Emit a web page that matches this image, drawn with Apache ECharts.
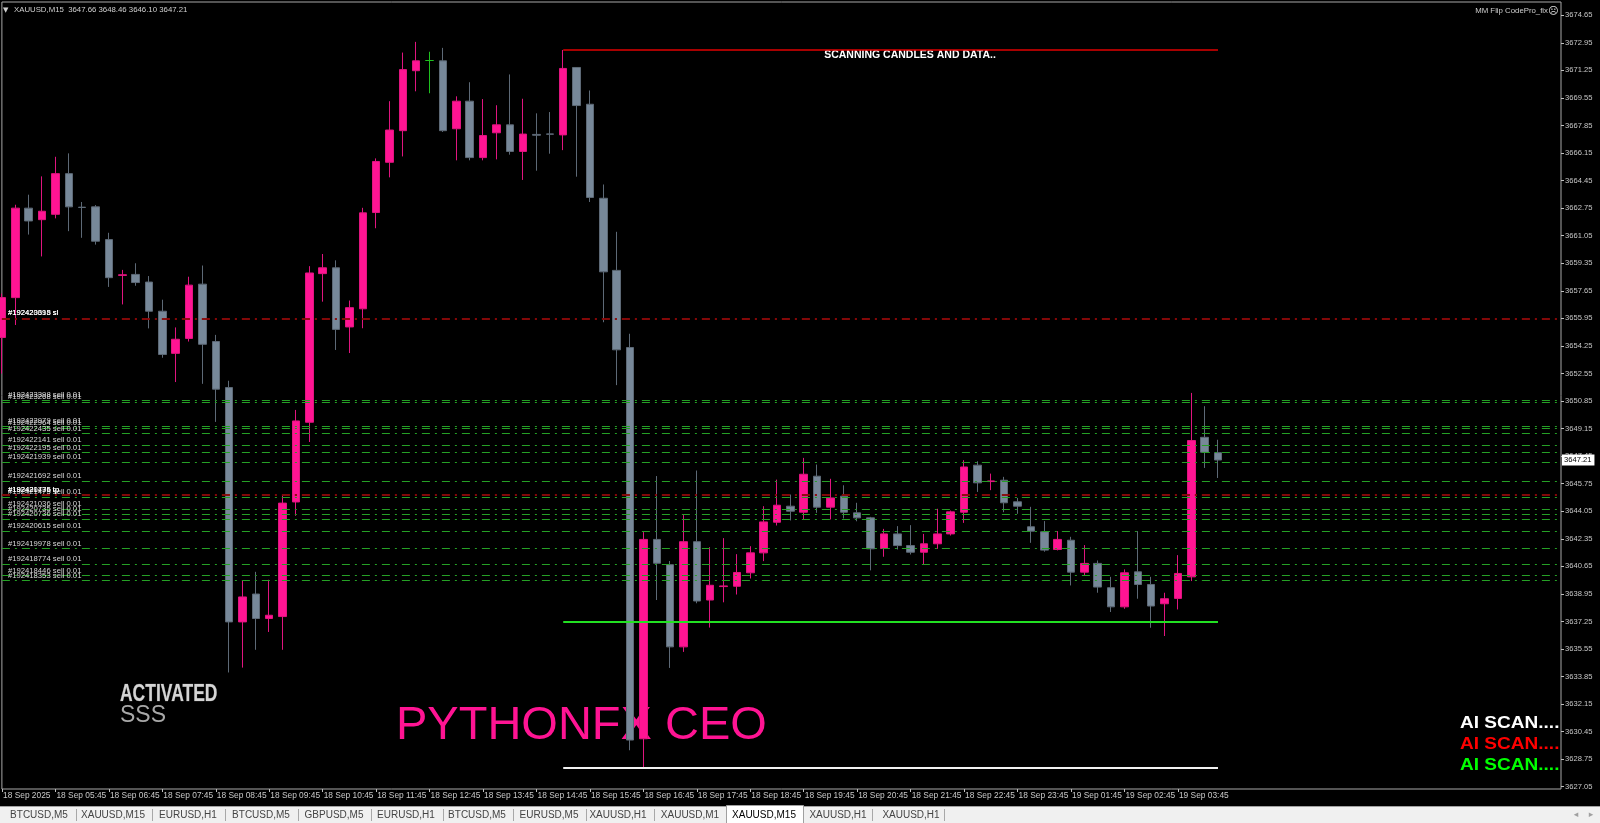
<!DOCTYPE html>
<html><head><meta charset="utf-8">
<script src="https://cdn.jsdelivr.net/npm/echarts@6/dist/echarts.min.js"></script>
<style>html,body{margin:0;padding:0;background:#000;}#c{width:1600px;height:823px;}</style>
</head><body><div id="c"></div>
<script>
// ---- data ----
const openP = [3654.77,3657.23,3662.75,3662.04,3662.37,3664.88,3662.81,3662.83,3660.81,3658.60,
3658.66,3658.19,3656.39,3653.79,3654.71,3658.06,3654.52,3651.68,3637.22,3638.94,
3637.43,3637.55,3644.62,3649.54,3658.71,3659.07,3655.42,3656.54,3662.48,3665.58,
3667.53,3671.23,3671.86,3671.84,3667.65,3669.35,3665.87,3667.40,3667.89,3666.25,
3667.30,3667.33,3667.27,3671.43,3669.16,3663.36,3658.91,3654.15,3630.01,3642.31,
3640.75,3635.68,3642.17,3638.57,3639.40,3639.42,3640.25,3641.48,3643.37,3644.36,
3643.99,3646.21,3644.30,3644.98,3643.95,3643.64,3641.75,3642.65,3641.93,3641.52,
3642.04,3642.65,3643.99,3646.89,3645.88,3645.96,3644.63,3643.09,3642.78,3641.69,
3642.26,3640.29,3640.83,3639.33,3638.15,3640.31,3639.53,3638.34,3638.67,3640.00,
3648.61,3647.66];
const closeP = [3657.23,3662.75,3661.96,3662.56,3664.88,3662.83,3662.79,3660.71,3658.46,3658.64,
3658.16,3656.39,3653.72,3654.66,3658.00,3654.35,3651.58,3637.22,3638.76,3637.43,
3637.63,3644.55,3649.62,3658.75,3659.07,3655.27,3656.61,3662.46,3665.63,3667.57,
3671.30,3671.84,3671.86,3667.53,3669.35,3665.87,3667.23,3667.89,3666.25,3667.32,
3667.25,3667.31,3671.37,3669.08,3663.41,3658.82,3654.01,3629.93,3642.31,3640.84,
3635.68,3642.17,3638.51,3639.48,3639.44,3640.27,3641.48,3643.39,3644.42,3644.05,
3646.33,3644.30,3644.87,3643.99,3643.64,3641.73,3642.65,3641.93,3641.52,3642.04,
3642.65,3644.01,3646.78,3645.80,3645.92,3644.57,3644.36,3642.82,3641.65,3642.31,
3640.29,3640.83,3639.37,3638.15,3640.25,3639.53,3638.20,3638.65,3640.21,3648.41,
3647.69,3647.21];
const lowP = [3652.54,3655.54,3661.12,3659.77,3662.12,3661.33,3660.92,3660.50,3657.89,3656.81,
3657.96,3655.33,3653.52,3652.02,3654.52,3651.91,3649.56,3634.10,3634.40,3635.50,
3636.60,3635.50,3643.77,3648.32,3656.98,3654.00,3653.81,3655.34,3661.51,3664.65,
3665.94,3669.96,3669.84,3667.45,3665.70,3665.70,3665.70,3665.76,3666.05,3664.49,
3665.06,3666.11,3666.33,3664.69,3663.13,3655.71,3651.83,3629.30,3628.20,3638.57,
3634.38,3635.37,3638.37,3636.87,3638.43,3638.91,3639.90,3640.97,3643.17,3643.48,
3643.54,3643.95,3643.54,3643.60,3643.43,3640.40,3641.24,3641.69,3641.38,3640.76,
3641.73,3642.55,3643.33,3645.24,3645.35,3643.99,3643.89,3642.10,3641.55,3641.63,
3639.47,3640.09,3639.02,3637.83,3638.03,3638.65,3636.86,3636.35,3637.99,3639.74,
3646.72,3646.10];
const highP = [3657.48,3662.96,3663.58,3664.71,3665.92,3666.13,3663.13,3662.94,3661.23,3658.94,
3659.35,3658.56,3657.10,3655.39,3658.52,3659.21,3654.93,3652.10,3639.76,3640.31,
3639.82,3645.04,3650.30,3659.17,3659.92,3659.53,3657.05,3662.77,3665.82,3669.35,
3672.35,3673.01,3672.40,3672.64,3669.65,3670.52,3669.48,3669.10,3671.00,3669.50,
3668.60,3668.68,3672.51,3671.43,3670.01,3664.21,3661.29,3655.00,3642.76,3646.22,
3640.98,3643.81,3646.56,3641.83,3642.39,3641.40,3641.89,3644.36,3646.00,3645.08,
3647.34,3646.93,3646.05,3645.65,3644.57,3643.70,3642.96,3643.13,3643.19,3642.65,
3644.20,3644.09,3647.20,3647.13,3646.37,3646.17,3644.87,3644.32,3643.44,3642.82,
3642.47,3641.96,3641.01,3640.00,3640.46,3642.82,3640.00,3639.02,3641.34,3651.35,
3650.53,3648.46];

const timeTickIdx = [0,4,8,12,16,20,24,28,32,36,40,44,48,52,56,60,64,68,72,76,80,84,88];
const timeTickLabels = ['18 Sep 2025','18 Sep 05:45','18 Sep 06:45','18 Sep 07:45','18 Sep 08:45',
'18 Sep 09:45','18 Sep 10:45','18 Sep 11:45','18 Sep 12:45','18 Sep 13:45','18 Sep 14:45',
'18 Sep 15:45','18 Sep 16:45','18 Sep 17:45','18 Sep 18:45','18 Sep 19:45','18 Sep 20:45',
'18 Sep 21:45','18 Sep 22:45','18 Sep 23:45','19 Sep 01:45','19 Sep 02:45','19 Sep 03:45'];
const priceTicks = [3627.05,3628.75,3630.45,3632.15,3633.85,3635.55,3637.25,3638.95,3640.65,3642.35,
3644.05,3645.75,3647.45,3649.15,3650.85,3652.55,3654.25,3655.95,3657.65,3659.35,3661.05,3662.75,
3664.45,3666.15,3667.85,3669.55,3671.25,3672.95,3674.65];

const sellLevels = [3650.91,3650.79,3649.29,3649.20,3648.83,3648.14,3647.68,3647.10,3645.91,3644.91,
3644.20,3643.87,3643.55,3642.82,3641.74,3640.80,3640.07,3639.76];
const sellLabels = ['#192423398 sell 0.01','#192423268 sell 0.01','#192422979 sell 0.01','#192422964 sell 0.01',
'#192422435 sell 0.01','#192422141 sell 0.01','#192422195 sell 0.01','#192421939 sell 0.01',
'#192421692 sell 0.01','#192421475 sell 0.01','#192421036 sell 0.01','#192420735 sell 0.01',
'#192420736 sell 0.01','#192420615 sell 0.01','#192419978 sell 0.01','#192418774 sell 0.01',
'#192418446 sell 0.01','#192418353 sell 0.01'];
const stopLevels = [3655.95,3655.95,3645.08,3645.08];
const stopLabels = ['#192423398 sl','#192420615 sl','#192421475 tp','#192420736 tp'];
const scanHigh = 3672.50, scanSupport = 3637.25, scanLow = 3628.20;
const scanFrom = 42, scanTo = 91;
const bidPrice = 3647.21;
const headerText = 'XAUUSD,M15  3647.66 3648.46 3646.10 3647.21';
const tabNames = ['BTCUSD,M5','XAUUSD,M15','EURUSD,H1','BTCUSD,M5','GBPUSD,M5','EURUSD,H1','BTCUSD,M5',
'EURUSD,M5','XAUUSD,H1','XAUUSD,M1','XAUUSD,M15','XAUUSD,H1','XAUUSD,H1'];
const activeTab = 10;

// ---- styles / layout ----
const PINK = '#ff1493', PINK_B = '#e0157f', GRAY = '#778899', GRAY_B = '#5d6976';
const greenDoji = [32];
const FONT = 'Liberation Sans';
const tabCenters = [39,113,188,261,334,406,477,549,618,690,764,838,911];
const tabSeps = [76,152,225,298,371,443,513,586,654,872,944];

const candleData = openP.map((o, i) => {
  const v = [i, o, closeP[i], lowP[i], highP[i]];
  if (greenDoji.includes(i)) return {value: v, itemStyle: {color:'#1fc01f', color0:'#1fc01f', borderColor:'#1fc01f', borderColor0:'#1fc01f'}};
  return v;
});

const ml = [];
sellLevels.forEach((p, k) => ml.push({
  yAxis: p,
  lineStyle: {color:'#25a025', width:1, type:[8,5,2,5]},
  label: {show:true, position:'insideStartTop', formatter: sellLabels[k], color:'#d8d8d8',
          fontSize:7.7, fontFamily:FONT, distance:[6,1]}
}));
stopLevels.forEach((p, k) => ml.push({
  yAxis: p,
  lineStyle: {color:'#8a0a0a', width:1.5, type:[8,5,2,5]},
  label: {show:true, position:'insideStartTop', formatter: stopLabels[k], color:'#ffffff',
          fontSize:7.7, fontFamily:FONT, distance:[6,1]}
}));
ml.push({yAxis: bidPrice, lineStyle:{color:'rgba(0,0,0,0)', width:0.01, type:'solid'},
  label:{show:true, position:'end', formatter: bidPrice.toFixed(2), color:'#000', backgroundColor:'#ffffff',
         padding:[2,3,1,2], fontSize:7.6, fontFamily:FONT, distance:1}});
ml.push([{coord:[scanFrom, scanHigh], lineStyle:{color:'#e00000', width:1.5, type:'solid'}}, {coord:[scanTo, scanHigh]}]);
ml.push([{coord:[scanFrom, scanSupport], lineStyle:{color:'#22e022', width:2, type:'solid'}}, {coord:[scanTo, scanSupport]}]);
ml.push([{coord:[scanFrom, scanLow], lineStyle:{color:'#f0f0f0', width:2, type:'solid'}}, {coord:[scanTo, scanLow]}]);

const graphics = [
  {type:'text', x:3, y:10, style:{text:'▼', fill:'#d0d0d0', font:'7px DejaVu Sans', textVerticalAlign:'middle'}},
  {type:'text', x:14, y:10, style:{text:headerText, fill:'#d0d0d0', font:'7.8px '+FONT, textVerticalAlign:'middle'}},
  {type:'text', x:1548, y:11, style:{text:'MM Flip CodePro_fix', fill:'#d0d0d0', font:'7.8px '+FONT, textAlign:'right', textVerticalAlign:'middle'}},
  {type:'text', x:1548, y:11, style:{text:'☹', fill:'#e0e0e0', font:'10px DejaVu Sans', textVerticalAlign:'middle'}},
  {type:'text', x:910, y:55, style:{text:'SCANNING CANDLES AND DATA..', fill:'#ffffff', font:'bold 10.5px '+FONT, textAlign:'center', textVerticalAlign:'middle'}},
  {type:'text', x:120, y:695, scaleX:0.76, style:{text:'ACTIVATED', x:0, y:0, fill:'#d4d4d4', stroke:'#555', lineWidth:0.6, font:'bold 23px '+FONT, textVerticalAlign:'middle'}},
  {type:'text', x:120, y:716, style:{text:'SSS', fill:'#a8a8a8', font:'23px '+FONT, textVerticalAlign:'middle'}},
  {type:'text', x:396, y:726, style:{text:'PYTHONFX CEO', fill:PINK, font:'47px '+FONT, textVerticalAlign:'middle'}},
  {type:'text', x:1460, y:723, scaleX:1.12, style:{text:'AI SCAN....', x:0, y:0, fill:'#ffffff', font:'bold 17px '+FONT, textVerticalAlign:'middle'}},
  {type:'text', x:1460, y:744, scaleX:1.12, style:{text:'AI SCAN....', x:0, y:0, fill:'#ff0000', font:'bold 17px '+FONT, textVerticalAlign:'middle'}},
  {type:'text', x:1460, y:765, scaleX:1.12, style:{text:'AI SCAN....', x:0, y:0, fill:'#00ff00', font:'bold 17px '+FONT, textVerticalAlign:'middle'}},
  // tab bar
  {type:'rect', shape:{x:0, y:806, width:1600, height:17}, style:{fill:'#f0f0f0'}},
  {type:'line', shape:{x1:0, y1:806.5, x2:1600, y2:806.5}, style:{stroke:'#a0a0a0', lineWidth:1}},
  {type:'rect', shape:{x:726.5, y:805.5, width:77, height:18}, style:{fill:'#ffffff', stroke:'#a0a0a0', lineWidth:1}},
  {type:'text', x:1576, y:815, style:{text:'◂', fill:'#a0a0a0', font:'9px DejaVu Sans', textAlign:'center', textVerticalAlign:'middle'}},
  {type:'text', x:1591, y:815, style:{text:'▸', fill:'#a0a0a0', font:'9px DejaVu Sans', textAlign:'center', textVerticalAlign:'middle'}}
];
tabNames.forEach((t, k) => graphics.push({type:'text', x:tabCenters[k], y:815,
  style:{text:t, fill: k===activeTab ? '#000' : '#444', font:'10px '+FONT, textAlign:'center', textVerticalAlign:'middle'}}));
tabSeps.forEach(x => graphics.push({type:'line', shape:{x1:x+0.5, y1:809, x2:x+0.5, y2:821}, style:{stroke:'#a8a8a8', lineWidth:1}}));

const chart = echarts.init(document.getElementById('c'), null, {renderer:'canvas', width:1600, height:823});
chart.setOption({
  animation:false,
  backgroundColor:'#000',
  grid:{left:1, right:39, top:2, bottom:34, show:true, borderColor:'#a8a8a8', borderWidth:1, backgroundColor:'transparent'},
  xAxis:{type:'value', min:-0.0075, max:116.67, splitLine:{show:false}, axisLine:{show:false, onZero:false},
    axisTick:{show:true, customValues: timeTickIdx, length:3, lineStyle:{color:'#c0c0c0'}},
    axisLabel:{customValues: timeTickIdx, formatter: v => timeTickLabels[timeTickIdx.indexOf(Math.round(v))] || '',
      align:'left', color:'#c8c8c8', fontSize:8.4, fontFamily:FONT, margin:3, padding:[0,0,0,1]}},
  yAxis:{type:'value', position:'right', min:3626.91, max:3675.47, scale:true, splitLine:{show:false},
    axisLine:{show:false, onZero:false},
    axisTick:{show:true, customValues: priceTicks, length:3, lineStyle:{color:'#c0c0c0'}},
    axisLabel:{customValues: priceTicks, formatter: v => v.toFixed(2), color:'#c8c8c8', fontSize:7.6, fontFamily:FONT, margin:4}},
  graphic: graphics,
  series:[{
    type:'candlestick', layout:'horizontal', barWidth:8, data:candleData,
    itemStyle:{color:PINK, color0:GRAY, borderColor:PINK_B, borderColor0:GRAY_B, borderWidth:1},
    markLine:{silent:true, symbol:['none','none'], animation:false, label:{show:false}, data: ml}
  }]
});
</script></body></html>
